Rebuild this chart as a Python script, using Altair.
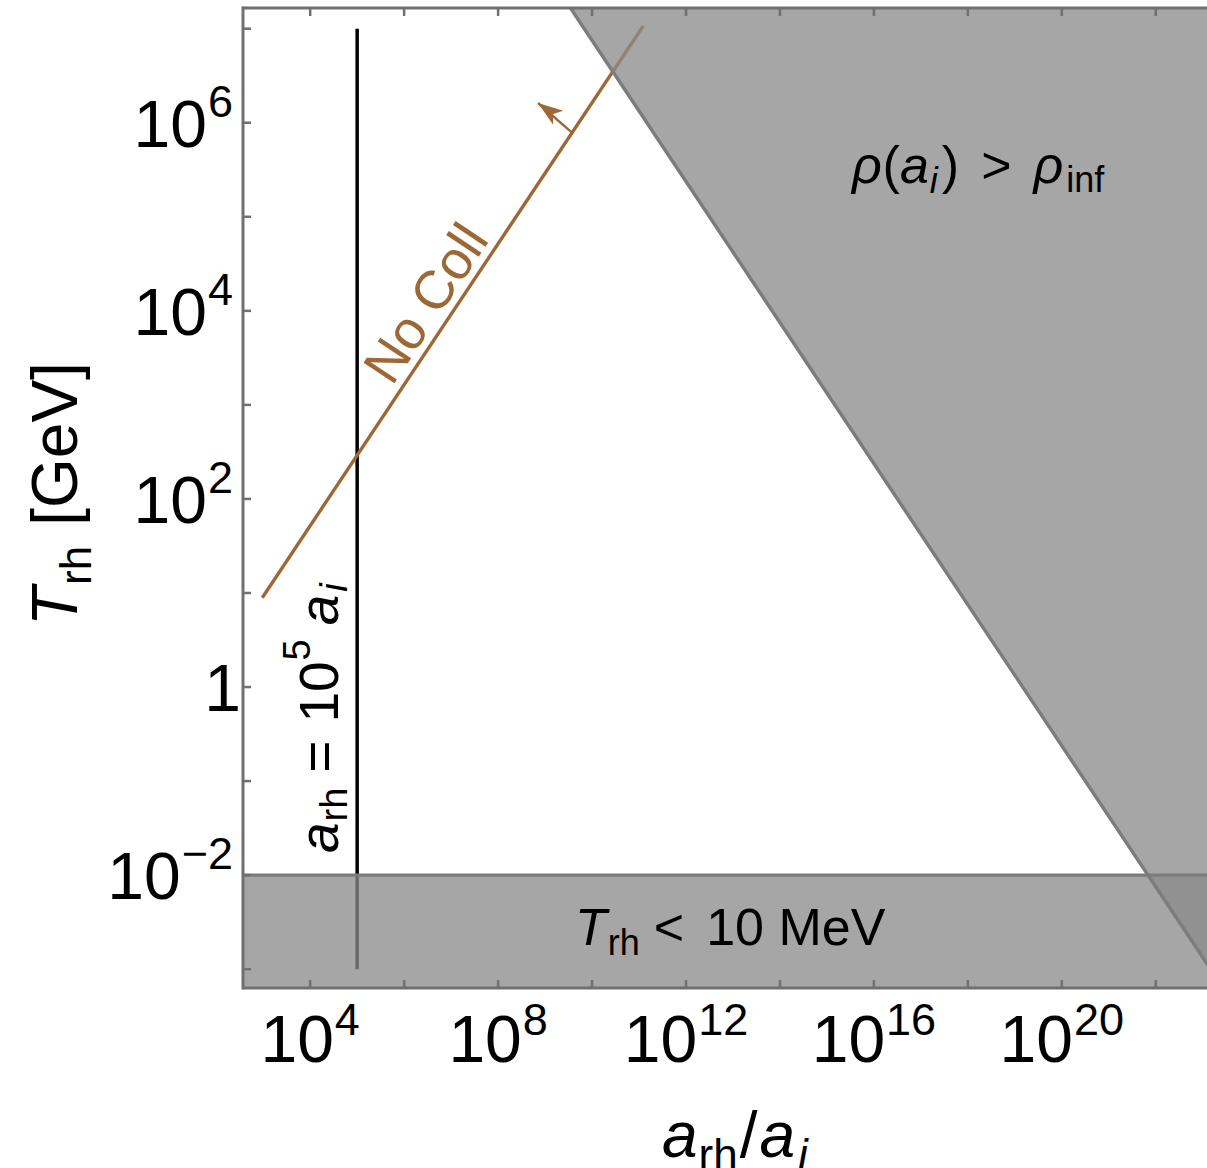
import altair as alt
import pandas as pd

FONT = "Liberation Sans"
BROWN = "#9c6936"
FRAME = "#707070"
REGION_FILL = "#8a8a8a"
REGION_EDGE = "#7c7c7c"

W, H = 964, 980  # plot area in pixels

# log10 limits of the axes
x_log_range = [2.57, 23.09]
y_log_range = [-3.2, 7.22]

# decade exponents for ticks and labels
x_tick_exps = [4, 6, 8, 10, 12, 14, 16, 18, 20, 22]
x_label_exps = [4, 8, 12, 16, 20]
y_tick_exps = [-3, -2, -1, 0, 1, 2, 3, 4, 5, 6, 7]
y_label_exps = [-2, 0, 2, 4, 6]

# a_rh = 1e5 a_i reference line
vline_log_a = 5.0
vline_log_T = [-3.0, 7.0]

# no-collision boundary (T_rh ~ a^{3/4})
nocoll_log_a = [2.98, 11.09]
nocoll_log_T = [0.95, 7.03]

# rho(a_i) > rho_inf boundary (T_rh ~ a^{-3/4})
rho_log_a = [9.5, 23.5]
rho_log_T = [7.25, -3.25]

# T_rh = 10 MeV
bbn_log_T = -2.0

# arrow marking the allowed side of the no-collision line
arrow_base = [9.573, 5.895]
arrow_tip = [8.849, 6.21]

# annotation anchors (log10 a, log10 T)
label_rho_at = [15.49, 5.36]
label_bbn_at = [9.637, -2.743]
label_vline_at = [5.0, -1.765]
label_nocoll_at = [6.944, 3.92]

xs = alt.Scale(type="log", domain=[10 ** x_log_range[0], 10 ** x_log_range[1]], nice=False)
ys = alt.Scale(type="log", domain=[10 ** y_log_range[0], 10 ** y_log_range[1]], nice=False)


def X(field="a"):
    return alt.X(f"{field}:Q", scale=xs, axis=None)


def Y(field="T"):
    return alt.Y(f"{field}:Q", scale=ys, axis=None)


def pt(log_a, log_T):
    return pd.DataFrame({"a": [10 ** log_a], "T": [10 ** log_T]})


ONE = pd.DataFrame({"k": [0]})

# advance widths (per 1000 em) for the Arial-metric font
ADV = {" ": 278, "a": 556, "r": 333, "h": 556, "i": 222, "n": 556, "f": 278,
       "e": 556, "o": 556, "l": 222, "M": 833, "V": 667, "T": 611, "N": 722,
       "C": 722, "G": 778, "=": 584, "<": 584, ">": 584, "(": 333, ")": 333,
       "[": 278, "]": 278, "/": 278, "\u2212": 584, "\u03c1": 570}


def text_w(s, size):
    return sum(ADV.get(c, 556) for c in s) / 1000.0 * size


def rich(data, x_enc, y_enc, runs, start=0.0, angle=0, base_dy=0.0, color="black"):
    """runs: (text, size, italic, baseline shift, gap before)"""
    out = []
    pos = start
    for text, size, italic, shift, gap in runs:
        pos += gap
        out.append(
            alt.Chart(data).mark_text(
                text=text, font=FONT, fontSize=size,
                fontStyle="italic" if italic else "normal",
                align="left", baseline="alphabetic", angle=angle,
                dx=pos, dy=base_dy + shift, color=color,
            ).encode(x=x_enc, y=y_enc)
        )
        pos += text_w(text, size)
    return out


layers = []

# vertical a_rh = 1e5 a_i line
vdf = pd.DataFrame({"a": [10 ** vline_log_a], "T0": [10 ** vline_log_T[0]], "T1": [10 ** vline_log_T[1]]})
layers.append(alt.Chart(vdf).mark_rule(color="black", strokeWidth=3.5)
              .encode(x=X("a"), y=Y("T0"), y2=alt.Y2("T1:Q")))

# no-collision line
ndf = pd.DataFrame({"a": [10 ** v for v in nocoll_log_a], "T": [10 ** v for v in nocoll_log_T]})
layers.append(alt.Chart(ndf).mark_line(color=BROWN, strokeWidth=3.4, clip=True).encode(x=X(), y=Y()))

# arrow
adf = pd.DataFrame({"a": [10 ** arrow_base[0]], "T": [10 ** arrow_base[1]],
                    "a2": [10 ** arrow_tip[0]], "T2": [10 ** arrow_tip[1]]})
layers.append(alt.Chart(adf).mark_rule(color=BROWN, strokeWidth=2.4)
              .encode(x=X(), y=Y(), x2=alt.X2("a2:Q"), y2=alt.Y2("T2:Q")))
layers.append(alt.Chart(pt(*arrow_tip)).mark_point(
    shape="M0,0 L0.62,1.8 L0,1.35 L-0.62,1.8 Z", size=770, angle=306,
    filled=True, color=BROWN, opacity=1, strokeWidth=0).encode(x=X(), y=Y()))

# excluded regions
band = pd.DataFrame({"a": [10 ** 2, 10 ** 24], "T": [10 ** bbn_log_T] * 2, "Tb": [10 ** -4] * 2})
layers.append(alt.Chart(band).mark_area(color=REGION_FILL, opacity=0.765, clip=True)
              .encode(x=X(), y=Y(), y2=alt.Y2("Tb:Q")))
rdf = pd.DataFrame({"a": [10 ** v for v in rho_log_a], "T": [10 ** v for v in rho_log_T],
                    "Tt": [10 ** 8] * 2})
layers.append(alt.Chart(rdf).mark_area(color=REGION_FILL, opacity=0.765, clip=True)
              .encode(x=X(), y=Y(), y2=alt.Y2("Tt:Q")))
layers.append(alt.Chart(pd.DataFrame({"T": [10 ** bbn_log_T]})).mark_rule(
    color=REGION_EDGE, strokeWidth=3.4).encode(y=Y(), x=alt.value(0), x2=alt.value(W)))
layers.append(alt.Chart(rdf).mark_line(color=REGION_EDGE, strokeWidth=3.4, clip=True)
              .encode(x=X(), y=Y()))

# frame (left, top, bottom)
layers.append(alt.Chart(ONE).mark_rule(color=FRAME, strokeWidth=3)
              .encode(x=alt.value(0), y=alt.value(-1.5), y2=alt.value(H + 1.5)))
layers.append(alt.Chart(ONE).mark_rule(color=FRAME, strokeWidth=3)
              .encode(y=alt.value(0), x=alt.value(0), x2=alt.value(W)))
layers.append(alt.Chart(ONE).mark_rule(color=FRAME, strokeWidth=3)
              .encode(y=alt.value(H), x=alt.value(0), x2=alt.value(W)))

# inward ticks
xt = pd.DataFrame({"a": [10 ** e for e in x_tick_exps]})
yt = pd.DataFrame({"T": [10 ** e for e in y_tick_exps]})
layers.append(alt.Chart(xt).mark_rule(color=FRAME, strokeWidth=2.5)
              .encode(x=X(), y=alt.value(0), y2=alt.value(8)))
layers.append(alt.Chart(xt).mark_rule(color=FRAME, strokeWidth=2.5)
              .encode(x=X(), y=alt.value(H), y2=alt.value(H - 8)))
layers.append(alt.Chart(yt).mark_rule(color=FRAME, strokeWidth=2.5)
              .encode(y=Y(), x=alt.value(0), x2=alt.value(8)))

# tick labels
BASE, SUP = 66, 45


def exp_str(e):
    return str(e).replace("-", "\u2212")


for e in x_label_exps:
    s = exp_str(e)
    total = text_w("10", BASE) + 1 + text_w(s, SUP)
    layers += rich(pd.DataFrame({"a": [10 ** e]}), X(), alt.value(H + 74),
                   [("10", BASE, False, 0, 0), (s, SUP, False, -27, 1)],
                   start=-total / 2)

for e in y_label_exps:
    d = pd.DataFrame({"T": [10 ** e]})
    if e == 0:
        runs = [("1", BASE, False, 0, 0)]
        total = text_w("1", BASE) - 8
    else:
        s = exp_str(e)
        runs = [("10", BASE, False, 0, 0), (s, SUP, False, -30, 1)]
        total = text_w("10", BASE) + 1 + text_w(s, SUP)
    layers += rich(d, alt.value(0), Y(), runs, start=-10 - total, base_dy=24)

# axis titles
layers += rich(ONE, alt.value(-166), alt.value(618),
               [("T", 64, True, 0, 0), ("rh", 44, False, 14, 2), ("[GeV]", 64, False, 0, 20)],
               angle=270)
layers += rich(ONE, alt.value(419), alt.value(1149),
               [("a", 64, True, 0, 0), ("rh", 44, False, 13, 1), ("/", 64, False, 0, 2),
                ("a", 64, True, 0, 2), ("i", 44, True, 13, 3)])

# region and line annotations
la, lt = label_rho_at
layers += rich(pt(la, lt), X(), Y(),
               [("\u03c1", 52, True, 0, 2), ("(", 52, False, 0, 1), ("a", 52, True, 0, 0),
                ("i", 36, True, 10, 1), (")", 52, False, 0, 4), (">", 52, False, 0, 22),
                ("\u03c1", 52, True, 0, 22), ("inf", 36, False, 9, 3)])

la, lt = label_bbn_at
layers += rich(pt(la, lt), X(), Y(),
               [("T", 52, True, 0, 0), ("rh", 36, False, 10, 1), ("<", 52, False, 0, 14),
                ("10 MeV", 52, False, 0, 22)])

la, lt = label_vline_at
layers += rich(pt(la, lt), X(), Y(),
               [("a", 55, True, 0, 0), ("rh", 38, False, 9, 1), ("=", 55, False, 0, 15),
                ("10", 55, False, 0, 18), ("5", 38, False, -28, 1), ("a", 55, True, 0, 14),
                ("i", 38, True, 9, 3)],
               angle=270, base_dy=-19)

la, lt = label_nocoll_at
layers.append(alt.Chart(pt(la, lt)).mark_text(
    text="No Coll", font=FONT, fontSize=54, color=BROWN, angle=303.7,
    align="center", baseline="alphabetic", dy=-9).encode(x=X(), y=Y()))

chart = alt.layer(*layers).properties(
    width=W, height=H,
    padding={"left": 243, "top": 8, "right": 0, "bottom": 180},
    autosize=alt.AutoSizeParams(type="none"),
    background="white",
).configure_view(stroke=None)

chart.save("out.html", embed_options={"renderer": "svg", "actions": False})
